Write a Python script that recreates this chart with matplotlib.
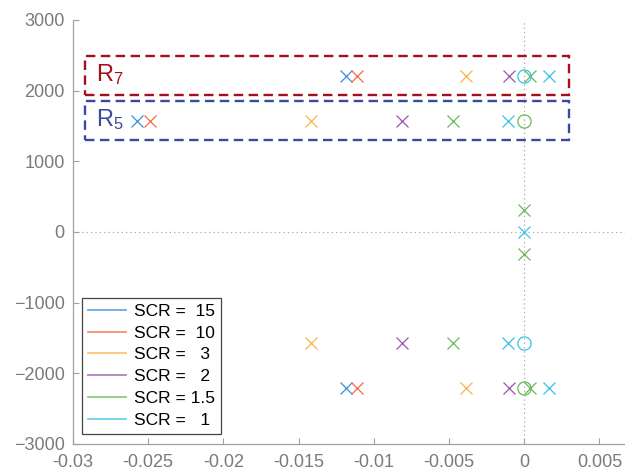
import numpy as np
import matplotlib.pyplot as plt
from matplotlib.patches import Rectangle
from matplotlib.lines import Line2D

plt.switch_backend('agg')
plt.rcParams['font.family'] = ['Liberation Sans', 'DejaVu Sans']
plt.rcParams['mathtext.default'] = 'regular'

# data: pole real parts for each SCR case, two oscillatory modes (conjugate pairs)
scr_labels = ['SCR =  15', 'SCR =  10', 'SCR =   3', 'SCR =   2', 'SCR = 1.5', 'SCR =   1']
colors = ['#3a8fd9', '#f4694a', '#fbb347', '#9a56ad', '#6ab85a', '#33c3ee']
r7_real = [-0.01187, -0.01111, -0.00386, -0.00101, 0.00040, 0.00168]
r7_imag = 2205
r5_real = [-0.02573, -0.02489, -0.01416, -0.00812, -0.00471, -0.00108]
r5_imag = 1575

# extra poles near origin
green_extra_real = [0.0, 0.0]
green_extra_imag = [312, -312]
cyan_extra_real = [0.0]
cyan_extra_imag = [0]

# zeros (circles) on the imaginary axis
cyan_zero_real = [0.0, 0.0]
cyan_zero_imag = [2205, -1575]
green_zero_real = [0.0, 0.0]
green_zero_imag = [1575, -2205]

xticks = [-0.03, -0.025, -0.02, -0.015, -0.01, -0.005, 0, 0.005]
xticklabels = ['-0.03', '-0.025', '-0.02', '-0.015', '-0.01', '-0.005', '0', '0.005']
yticks = [-3000, -2000, -1000, 0, 1000, 2000, 3000]

fig = plt.figure(figsize=(6.25, 4.75), dpi=100)
ax = fig.add_axes([73/625, 31/475, 552/625, 424/475])

# dotted axes through origin
ax.axhline(0, color='#a8a8a8', lw=0.9, ls=(0, (1, 2.5)), zorder=0)
ax.axvline(0, color='#a8a8a8', lw=0.9, ls=(0, (1, 2.5)), zorder=0)

mk = dict(marker='x', linestyle='none', markersize=8, markeredgewidth=0.9)
for i in range(len(scr_labels)):
    xs = [r7_real[i], r7_real[i], r5_real[i], r5_real[i]]
    ys = [r7_imag, -r7_imag, r5_imag, -r5_imag]
    ax.plot(xs, ys, color=colors[i], **mk)

ax.plot(green_extra_real, green_extra_imag, color=colors[4], **mk)
ax.plot(cyan_extra_real, cyan_extra_imag, color=colors[5], **mk)

om = dict(marker='o', linestyle='none', markersize=9.5, markeredgewidth=0.9,
          markerfacecolor='none')
ax.plot(cyan_zero_real, cyan_zero_imag, markeredgecolor=colors[5], **om)
ax.plot(green_zero_real, green_zero_imag, markeredgecolor=colors[4], **om)

# dashed boxes around the modes
ax.add_patch(Rectangle((-0.0292, 1935), 0.0322, 555, fill=False,
                       edgecolor='#a3101c', lw=1.7, ls=(0, (4, 2.3))))
ax.add_patch(Rectangle((-0.0292, 1300), 0.0322, 550, fill=False,
                       edgecolor='#3a4aa0', lw=1.7, ls=(0, (4, 2.3))))
ax.text(-0.0285, 2225, 'R$_7$', color='#a3101c', fontsize=17, va='center')
ax.text(-0.0285, 1585, 'R$_5$', color='#3a4aa0', fontsize=17, va='center')

handles = [Line2D([], [], color=c, lw=1.3, alpha=0.75) for c in colors]
leg = ax.legend(handles, scr_labels, loc='lower left', bbox_to_anchor=(0.016, 0.024),
                borderaxespad=0, fontsize=12.5, fancybox=False, framealpha=1,
                edgecolor='#444444', handlelength=2.2, handletextpad=0.45,
                labelspacing=0.38, borderpad=0.35)
leg.get_frame().set_linewidth(0.9)
leg.set_zorder(5)

ax.set_xlim(-0.03, 0.0067)
ax.set_ylim(-3000, 3000)
ax.set_xticks(xticks)
ax.set_xticklabels(xticklabels)
ax.set_yticks(yticks)

for s in ['top', 'right']:
    ax.spines[s].set_visible(False)
for s in ['left', 'bottom']:
    ax.spines[s].set_color('#a0a0a0')
    ax.spines[s].set_linewidth(0.9)
ax.tick_params(direction='in', length=4, width=0.8, color='#a0a0a0',
               labelcolor='#7a7a7a', labelsize=13)
ax.tick_params(axis='x', pad=7)
ax.tick_params(axis='y', pad=6)

fig.savefig('out.png', dpi=100)
